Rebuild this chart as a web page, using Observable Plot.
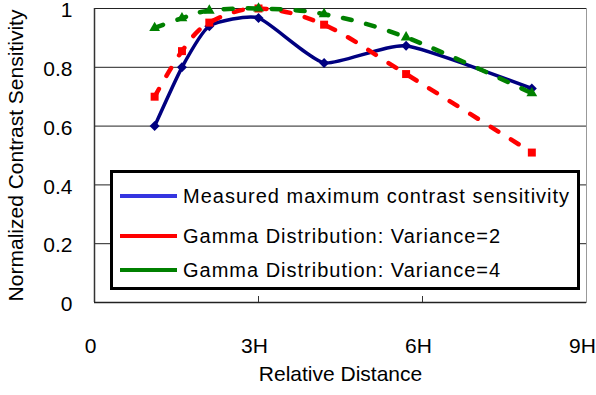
<!DOCTYPE html>
<html>
<head>
<meta charset="utf-8">
<script src="https://cdn.jsdelivr.net/npm/d3@7"></script>
<script src="https://cdn.jsdelivr.net/npm/@observablehq/plot@0.6"></script>
<style>
  body { margin: 0; background: #fff; font-family: "Liberation Sans", Arial, sans-serif; }
  #wrap { position: relative; width: 596px; height: 395px; overflow: hidden; }
  #wrap svg { position: absolute; left: 0; top: 0; }
  .legend { position: absolute; left: 110px; top: 170px; width: 464px; height: 114px;
            border: 3px solid #000; background: #fff; }
  .row { position: absolute; left: 7px; height: 24px; display: flex; align-items: center; }
  .swatch { width: 57px; height: 4px; margin-right: 6px; }
  .lab { font-size: 20px; letter-spacing: 1px; white-space: nowrap; color: #000; }
</style>
</head>
<body>
<div id="wrap"></div>
<script>
// Relative viewing distance (in multiples of picture height H)
const distance = [1.1, 1.6, 2.1, 3.0, 4.2, 5.7, 8.0];
// Normalized contrast sensitivity per series
const measured  = [0.60, 0.80, 0.94, 0.968, 0.815, 0.873, 0.728];
const gammaVar2 = [0.70, 0.855, 0.952, 1.0, 0.945, 0.777, 0.51];
const gammaVar4 = [0.934, 0.967, 0.993, 1.0, 0.981, 0.902, 0.712];

const seriesNames = [
  "Measured maximum contrast sensitivity",
  "Gamma Distribution: Variance=2",
  "Gamma Distribution: Variance=4"
];
const lineColors   = ["#000080", "#ff0000", "#008000"];
const legendColors = ["#3535e0", "#ff0000", "#008000"];

const xTicks = [0, 3, 6, 9];
const yTicks = [0, 0.2, 0.4, 0.6, 0.8, 1];
const xTitle = "Relative Distance";
const yTitle = "Normalized Contrast Sensitivity";

const toRows = (vals) => distance.map((d, i) => ({ d, v: vals[i] }));
const rowsMeasured = toRows(measured);
const rowsVar2 = toRows(gammaVar2);
const rowsVar4 = toRows(gammaVar4);

// smoothed lines; the measured curve uses a tighter spline to avoid overshoot
const smoothTight = d3.curveCardinal.tension(0.45);
const smooth = d3.curveCardinal.tension(0);

const chart = Plot.plot({
  width: 596,
  height: 395,
  marginLeft: 94,
  marginRight: 10,
  marginTop: 8,
  marginBottom: 93,
  x: { domain: [0, 9] },
  y: { domain: [0, 1] },
  style: { fontFamily: "'Liberation Sans', Arial, sans-serif", fontSize: "21px", color: "#000", background: "#fff" },
  marks: [
    Plot.frame({ stroke: "#999" }),
    Plot.ruleY(yTicks.slice(1), { stroke: "#222" }),
    Plot.ruleX([0], { stroke: "#333", strokeWidth: 1.5 }),
    Plot.ruleY([0], { stroke: "#222", strokeWidth: 1.5 }),
    Plot.axisY({
      ticks: yTicks, tickSize: 0, tickPadding: 22, dy: 2,
      tickFormat: (d) => (d === 0 || d === 1 ? String(d) : d.toFixed(1)),
      label: null
    }),
    // short inward tick marks on the x axis
    Plot.tickX(xTicks.slice(1, -1), { stroke: "#333", insetTop: 288 }),
    Plot.axisX({
      ticks: xTicks, tickSize: 0, tickPadding: 36, dx: -4,
      tickFormat: (d) => (d === 0 ? "0" : d + "H"),
      label: null
    }),
    Plot.text([xTitle], { text: (d) => d, frameAnchor: "bottom", lineAnchor: "middle", dy: 72 }),
    Plot.text([yTitle], { text: (d) => d, frameAnchor: "left", rotate: -90, textAnchor: "middle", lineAnchor: "middle", dx: -78 }),
    // measured curve with diamond markers
    Plot.line(rowsMeasured, { x: "d", y: "v", stroke: lineColors[0], strokeWidth: 3.5, curve: smoothTight }),
    Plot.dot(rowsMeasured, { x: "d", y: "v", symbol: d3.symbolDiamond2 || "diamond", r: 4.5, fill: lineColors[0] }),
    // gamma distribution, variance 2
    Plot.line(rowsVar2, { x: "d", y: "v", stroke: lineColors[1], strokeWidth: 4.5, strokeDasharray: "9,15", curve: smooth }),
    Plot.dot(rowsVar2, { x: "d", y: "v", symbol: "square", r: 4.5, fill: lineColors[1] }),
    // gamma distribution, variance 4
    Plot.line(rowsVar4, { x: "d", y: "v", stroke: lineColors[2], strokeWidth: 4.5, strokeDasharray: "9,15", curve: smooth }),
    Plot.dot(rowsVar4, { x: "d", y: "v", symbol: "triangle", r: 4, fill: lineColors[2] })
  ]
});

const wrap = document.getElementById("wrap");
wrap.appendChild(chart);

// Legend box drawn over the plot area
const legend = document.createElement("div");
legend.className = "legend";
const rowTops = [11, 51, 85];
seriesNames.forEach((name, i) => {
  const row = document.createElement("div");
  row.className = "row";
  row.style.top = rowTops[i] + "px";
  const sw = document.createElement("div");
  sw.className = "swatch";
  sw.style.background = legendColors[i];
  const lab = document.createElement("span");
  lab.className = "lab";
  lab.textContent = name;
  row.appendChild(sw);
  row.appendChild(lab);
  legend.appendChild(row);
});
wrap.appendChild(legend);
</script>
</body>
</html>
